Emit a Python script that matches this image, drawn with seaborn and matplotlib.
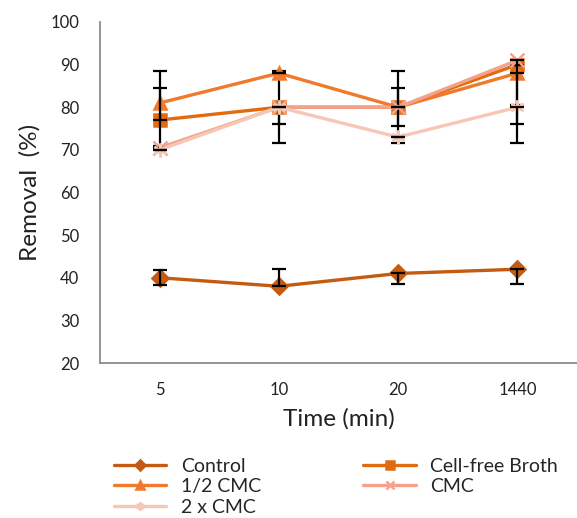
import matplotlib
matplotlib.use("Agg")
import matplotlib.pyplot as plt
import seaborn as sns
import pandas as pd
import numpy as np

# ---- data ----
times = ["5", "10", "20", "1440"]
series = ["Control", "Cell-free Broth", "1/2 CMC", "CMC", "2 x CMC"]
control = [40, 38, 41, 42]
cell_free = [77, 80, 80, 90]
half_cmc = [81, 88, 80, 88]
cmc = [70.5, 80, 80, 91]
two_cmc = [70, 80, 73, 80]

control_lo = [1.7, 0, 2.5, 3.4]
control_hi = [1.8, 4, 0, 0]
cell_free_lo = [0, 8.5, 8.5, 0]
cell_free_hi = [7.6, 8.5, 8.5, 0]
half_cmc_lo = [10, 0, 4.4, 7.5]
half_cmc_hi = [7.6, 0, 4.4, 0]
cmc_lo = [0, 4, 0, 15]
cmc_hi = [0, 0, 0, 0]
two_cmc_lo = [0, 0, 0, 8.5]
two_cmc_hi = [0, 0, 0, 0]

values = [control, cell_free, half_cmc, cmc, two_cmc]
err_lo = [control_lo, cell_free_lo, half_cmc_lo, cmc_lo, two_cmc_lo]
err_hi = [control_hi, cell_free_hi, half_cmc_hi, cmc_hi, two_cmc_hi]

colors = ["#C55A11", "#E26B10", "#F07A2C", "#F4A28C", "#F7C7B6"]
markers = ["D", "s", "^", "x", (6, 2, 0)]
msizes = [8, 9, 9, 10, 10]

rows = []
for s, v in zip(series, values):
    for i, t in enumerate(times):
        rows.append({"Series": s, "pos": i, "Removal": v[i]})
df = pd.DataFrame(rows)

sns.set_style("white")
plt.rcParams["font.family"] = ["Lato", "DejaVu Sans"]

fig = plt.figure(figsize=(5.77, 5.18), dpi=100)
ax = fig.add_axes([100 / 577, 155 / 518, 477 / 577, 341 / 518])

for k, s in enumerate(series):
    sub = df[df["Series"] == s]
    sns.lineplot(data=sub, x="pos", y="Removal", color=colors[k], marker=markers[k],
                 markersize=msizes[k], markeredgecolor=colors[k], markeredgewidth=1.8,
                 linewidth=2.4, ax=ax, label=s, zorder=2 + k)
    lo = np.array(err_lo[k]); hi = np.array(err_hi[k])
    ax.errorbar(sub["pos"], sub["Removal"], yerr=[lo, hi], fmt="none", ecolor="black",
                elinewidth=1.6, capsize=4.8, capthick=1.6, zorder=2 + k + 0.5)

ax.set_xlim(-0.5, 3.5)
ax.set_ylim(20, 100)
ax.set_yticks(range(20, 101, 10))
ax.set_xticks([0.5, 1.5, 2.5])
ax.set_xticklabels([])
ax.set_xticks(range(len(times)), minor=True)
ax.set_xticklabels(times, minor=True)
ax.tick_params(axis="x", which="minor", length=0, pad=14, labelsize=12, labelcolor="#222222")
ax.tick_params(axis="x", which="major", direction="inout", length=10, width=1.2, color="#8c8c8c")
ax.tick_params(axis="y", direction="inout", length=10, width=1.2, color="#8c8c8c",
               labelsize=12, labelcolor="#222222", pad=10)
for sp in ["top", "right"]:
    ax.spines[sp].set_visible(False)
for sp in ["left", "bottom"]:
    ax.spines[sp].set_color("#8c8c8c")
    ax.spines[sp].set_linewidth(1.3)

ax.set_xlabel("Time (min)", fontsize=17.5, labelpad=7, color="#222222")
ax.set_ylabel("Removal  (%)", fontsize=17.5, labelpad=7, color="#222222")

h, l = ax.get_legend_handles_labels()
order = [0, 2, 4, 1, 3]
ax.legend([h[i] for i in order], [l[i] for i in order], ncol=2, frameon=False,
          loc="upper left", bbox_to_anchor=(0.013, -0.255), fontsize=14,
          handlelength=2.7, handletextpad=0.75, columnspacing=5.25, labelspacing=0.18,
          markerscale=0.6, borderaxespad=0)

fig.savefig("out.png", dpi=100)
